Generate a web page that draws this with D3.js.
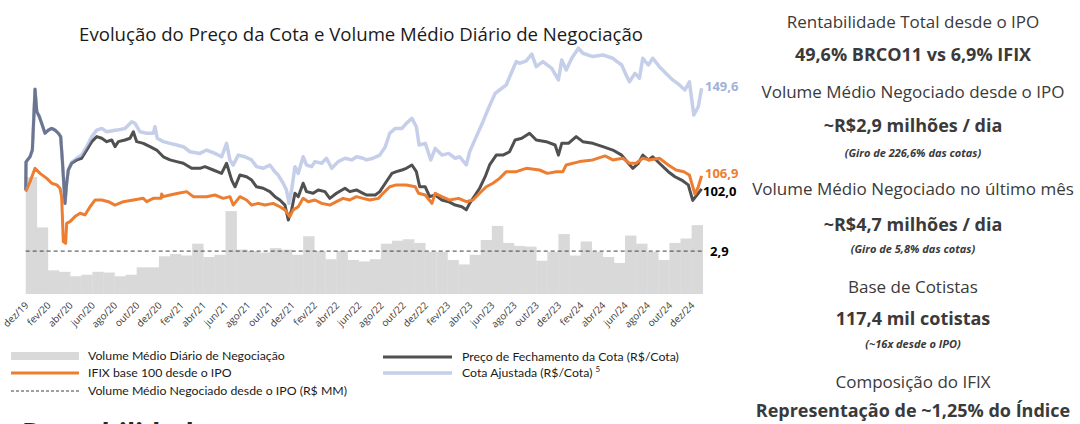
<!DOCTYPE html>
<html>
<head>
<meta charset="utf-8">
<script src="https://cdn.jsdelivr.net/npm/d3@7"></script>
<style>
  body { margin: 0; background: #fff; }
  svg { display: block; }
</style>
</head>
<body>
<svg id="chart" width="1080" height="424"></svg>
<script>
// volume medio diario por mes (R$ MM), dez/19 .. dez/24
var volumeMensal = [7.9, 4.5, 1.6, 1.5, 1.2, 1.3, 1.5, 1.45, 1.2, 1.3, 1.8, 1.8, 2.55, 2.7, 2.6, 3.4, 2.5, 2.65, 5.6, 3.0,
    2.9, 2.8, 3.1, 3.0, 2.65, 3.9, 2.9, 2.35, 2.9, 2.3, 2.2, 2.35, 3.4, 3.6, 3.7, 3.45, 2.85, 2.85, 2.3, 2.0,
    2.65, 3.65, 4.6, 3.45, 3.25, 3.2, 2.25, 2.85, 4.05, 2.6, 3.55, 2.85, 2.5, 2.1, 3.95, 3.4, 2.85, 2.3, 3.45, 3.75, 4.65];
var volumeMedioIPO = 2.9;

// rotulos do eixo x (um a cada 2 meses)
var mesesLabels = ["dez/19", "fev/20", "abr/20", "jun/20", "ago/20", "out/20", "dez/20", "fev/21", "abr/21", "jun/21",
    "ago/21", "out/21", "dez/21", "fev/22", "abr/22", "jun/22", "ago/22", "out/22", "dez/22", "fev/23", "abr/23",
    "jun/23", "ago/23", "out/23", "dez/23", "fev/24", "abr/24", "jun/24", "ago/24", "out/24", "dez/24"];

// series: [meses desde dez/19, valor]
var precoFechamento = [[0, 100.5], [0.03, 113.9], [0.39, 116.3], [0.6, 119.5], [0.84, 148.4], [1.0, 137.8], [1.23, 135.4], [1.44, 132.2],
    [1.74, 127.5], [2.04, 129], [2.34, 129.8], [2.64, 129], [2.94, 127.5], [3.15, 125.9], [3.3, 114.8], [3.54, 94.1], [3.69, 103.7],
    [3.84, 110], [4.14, 113.2], [4.6, 114.8], [5.04, 115.6], [5.5, 119.5], [5.95, 123.5], [6.4, 125.9], [6.85, 125.1], [7.3, 123.5],
    [7.75, 124.3], [8.05, 121.1], [8.35, 123.5], [8.95, 124.3], [9.4, 125.1], [9.7, 128.2], [10.0, 123.5], [10.6, 122.7], [11.2, 121.1],
    [11.8, 119.5], [12.4, 116.3], [13, 114.8], [13.6, 114], [14.2, 113.2], [14.95, 110.8], [15.7, 110.8], [16.15, 111.6], [16.9, 110],
    [17.65, 108.4], [18.1, 113.2], [18.56, 105.2], [18.86, 102], [19.3, 107.6], [19.9, 106.8], [20.36, 105.2], [20.8, 102], [21.4, 101.3],
    [22, 99.7], [22.46, 97.3], [22.9, 95.7], [23.36, 93.3], [23.66, 86.2], [23.96, 91], [24.26, 98.9], [24.56, 97.3], [25, 103.7],
    [25.3, 99.7], [25.9, 98.9], [26.36, 100.5], [26.96, 99.7], [27.4, 96.5], [28, 98.9], [28.77, 101.3], [29.2, 99.7], [29.8, 100.5],
    [30.4, 98.9], [30.7, 98.1], [31.5, 98.1], [31.9, 99.7], [32.4, 103.7], [33, 108.4], [33.4, 109.2], [33.9, 110], [34.3, 110.8],
    [34.8, 112.4], [35.2, 109.2], [35.5, 102], [36, 102], [36.4, 97.3], [36.9, 98.1], [37.5, 95.7], [38.1, 94.9], [38.7, 93.3],
    [39.3, 92.5], [39.7, 91], [40, 94.1], [40.5, 98.1], [40.9, 101.3], [41.4, 106.8], [41.8, 112.4], [42.4, 117.1], [43, 117.1],
    [43.6, 118.7], [44.1, 124.3], [44.7, 125.1], [45.4, 127.5], [46, 124.3], [46.9, 123.5], [47.7, 121.9], [48, 117.1], [48.3, 122.7],
    [48.9, 122.7], [49.6, 125.9], [50.2, 123.5], [51.1, 122.7], [52, 121.1], [52.9, 119.5], [53.7, 117.1], [54.3, 113.2], [54.7, 110.8],
    [55.2, 113.2], [55.6, 117.1], [56.1, 114.8], [56.5, 116.3], [57.1, 113.2], [57.9, 109.2], [58.5, 106.8], [59.1, 105.2], [59.7, 102.9],
    [60.1, 95.5], [60.6, 98.9], [60.9, 101]];

var cotaAjustada = [[0, 100.5], [0.03, 113.9], [0.39, 116.3], [0.6, 119.5], [0.84, 148.4], [1.0, 137.8], [1.23, 135.4], [1.44, 132.2],
    [1.74, 127.5], [2.04, 129], [2.34, 129.8], [2.64, 129], [2.94, 127.5], [3.15, 125.9], [3.3, 114.8], [3.54, 94.1], [3.69, 103.7],
    [3.84, 110], [4.14, 113.6], [4.6, 115.6], [5.04, 117.1], [5.5, 121.1], [5.95, 125.9], [6.4, 129], [6.85, 129.8], [7.3, 128.2],
    [8.2, 129], [8.95, 129.8], [9.55, 133], [9.85, 132.2], [10.3, 128.2], [10.9, 127.5], [11.5, 127.5], [11.65, 130.6], [11.85, 125.1],
    [12.4, 123.5], [13, 122.7], [13.6, 121.9], [14.2, 121.1], [14.8, 118.7], [15.7, 117.9], [16.3, 119.5], [17.05, 117.9], [17.65, 116.3],
    [18.1, 122.7], [18.4, 114.8], [18.7, 112.4], [19.15, 117.1], [19.75, 116.3], [20.35, 114.8], [20.8, 111.6], [21.4, 110.8], [22, 112.4],
    [22.45, 109.2], [22.75, 107.6], [23.2, 103.7], [23.5, 100.5], [23.72, 94.1], [23.96, 100.5], [24.26, 111.6], [24.56, 108.4],
    [25, 116.3], [25.3, 112.4], [25.77, 111.6], [26.06, 114], [26.67, 113.2], [27.1, 115.6], [27.57, 110.8], [28.16, 114], [28.77, 115.6],
    [29.37, 114.8], [29.82, 116.3], [30.4, 115.6], [30.7, 114.8], [31.3, 115.6], [31.9, 117.1], [32.4, 121.1], [32.8, 127.5],
    [33.3, 129.8], [33.9, 129.8], [34.3, 132.2], [34.8, 134.6], [35.2, 130.6], [35.45, 121.9], [36, 122.7], [36.5, 114.8], [36.9, 120.3],
    [37.5, 117.1], [38.1, 117.9], [38.7, 115.6], [39.1, 116.3], [39.7, 112.4], [40, 118.7], [40.6, 125.9], [41.2, 133], [41.7, 139.4],
    [42.3, 146.5], [42.7, 148.1], [43.3, 150.5], [43.9, 158], [44.2, 161.6], [44.5, 160.8], [45.1, 162], [45.6, 165.2], [46, 159.2],
    [46.6, 161.6], [47.4, 158.4], [48, 152.9], [48.3, 162.4], [48.7, 157.6], [49.2, 163.2], [49.8, 168], [50.2, 165.6], [51.1, 164],
    [52, 164.8], [52.9, 163.2], [53.7, 160], [54.1, 155.2], [54.4, 152], [54.9, 156], [55.3, 153.7], [55.6, 163.2], [56.1, 160],
    [56.5, 163.2], [57.1, 159.2], [57.7, 156], [58.3, 152.9], [58.9, 150.5], [59.4, 148.1], [59.8, 152], [60.2, 136.2], [60.6, 140.1],
    [60.9, 148.9]];

var ifixBase100 = [[0, 99.7], [0.39, 104.4], [0.84, 110.8], [1.29, 108.4], [1.9, 106], [2.34, 103.7], [2.8, 102.9], [3.09, 101.3],
    [3.24, 97.3], [3.39, 75.9], [3.6, 75.1], [3.69, 84.6], [3.99, 85.4], [4.44, 87.8], [4.9, 89.4], [5.34, 88.6], [5.8, 92.5],
    [6.24, 95.7], [6.85, 95.7], [7.45, 94.9], [8.05, 93.3], [8.8, 94.9], [9.7, 95.7], [10.6, 96.5], [10.9, 94.9], [11.5, 96.5],
    [12.2, 96.5], [12.25, 98.6], [12.4, 97.3], [13, 98.1], [13.75, 98.9], [14.5, 99.7], [15.1, 97.3], [15.4, 97.3], [16.3, 97.3],
    [17.05, 98.1], [17.8, 96.5], [18.4, 97.3], [18.7, 93.3], [19.3, 97.3], [19.9, 95.7], [20.36, 93.3], [20.95, 94.1], [21.56, 93.3],
    [22.3, 94.1], [22.9, 92.5], [23.36, 91], [23.8, 87.8], [24.1, 91], [24.56, 92.5], [25, 96.5], [25.46, 94.9], [26.06, 95.7],
    [26.67, 94.1], [27.4, 93.3], [28, 94.9], [28.6, 96.5], [29.2, 95.7], [29.8, 97.3], [30.4, 96.5], [31, 95.7], [31.8, 96.5],
    [32.2, 98.9], [32.8, 102], [33.4, 102.9], [34.3, 102.9], [35.1, 102], [35.4, 98.9], [36, 98.1], [36.6, 94.1], [36.9, 98.9],
    [37.5, 97.3], [38.2, 95.7], [39, 96.5], [39.7, 94.9], [40.3, 95.7], [40.9, 98.9], [41.5, 102], [42.1, 103.7], [42.7, 106],
    [43.3, 109.2], [44.2, 109.2], [45.1, 110.8], [46.3, 110], [47, 108.4], [47.8, 109.2], [48.4, 109.2], [48.7, 112.4], [49.9, 114],
    [51.1, 114.8], [52.2, 116.7], [52.9, 114.8], [53.8, 115.6], [54.4, 113.2], [55, 113.2], [55.6, 115.6], [56.2, 114.8], [57.1, 115.6],
    [57.9, 112.4], [58.6, 110], [59.3, 109.2], [59.8, 107.6], [60.3, 98.5], [60.6, 102], [60.9, 107.2]];

// valores finais mostrados ao lado das linhas
var ultimos = { ajustada: 149.6, ifix: 106.9, preco: 102.0 };

// textos do painel da direita
var painel = [
    { t: "Rentabilidade Total desde o IPO", kind: "head", y: 28 },
    { t: "49,6% BRCO11 vs 6,9% IFIX", kind: "big", y: 61 },
    { t: "Volume Médio Negociado desde o IPO", kind: "head", y: 98 },
    { t: "~R$2,9 milhões / dia", kind: "big", y: 132 },
    { t: "(Giro de 226,6% das cotas)", kind: "note", y: 157 },
    { t: "Volume Médio Negociado no último mês", kind: "head", y: 195 },
    { t: "~R$4,7 milhões / dia", kind: "big", y: 231 },
    { t: "(Giro de 5,8% das cotas)", kind: "note", y: 253 },
    { t: "Base de Cotistas", kind: "head", y: 293 },
    { t: "117,4 mil cotistas", kind: "big", y: 325 },
    { t: "(~16x desde o IPO)", kind: "note", y: 348 },
    { t: "Composição do IFIX", kind: "head", y: 388 },
    { t: "Representação de ~1,25% do Índice", kind: "big", y: 417 }
];

var svg = d3.select("#chart");
var fmt = d3.format(".1f");
function br(v) { return fmt(v).replace(".", ","); }

// escalas
var x = d3.scaleLinear().domain([0, 61]).range([25.7, 702.7]);
var yLine = d3.scaleLinear().domain([100, 150]).range([191, 86]);
var yBar = d3.scaleLinear().domain([0, 5]).range([294, 220]);

// titulo
svg.append("text").attr("x", 361).attr("y", 41)
    .attr("text-anchor", "middle")
    .style("font-family", "'Open Sans', sans-serif").style("font-size", "18.6px").style("fill", "#1a1a1a")
    .text("Evolução do Preço da Cota e Volume Médio Diário de Negociação");

// barras de volume
svg.append("g").selectAll("rect").data(volumeMensal).enter().append("rect")
    .attr("x", (d, i) => x(i))
    .attr("width", (d, i) => x(i + 1) - x(i) + 0.3)
    .attr("y", d => yBar(d))
    .attr("height", d => yBar(0) - yBar(d))
    .attr("fill", "#d9d9d9");

// media desde o IPO
svg.append("line")
    .attr("x1", x(0)).attr("x2", x(61))
    .attr("y1", yBar(volumeMedioIPO)).attr("y2", yBar(volumeMedioIPO))
    .attr("stroke", "#404040").attr("stroke-width", 1).attr("stroke-dasharray", "4,3");

// eixo x
var xAxis = d3.axisBottom(x)
    .tickValues(mesesLabels.map((d, i) => i * 2))
    .tickSize(0)
    .tickFormat((d, i) => mesesLabels[i]);
var gx = svg.append("g").attr("transform", "translate(0,299)").call(xAxis);
gx.select(".domain").remove();
gx.selectAll("text")
    .attr("y", 0).attr("dy", 0)
    .attr("text-anchor", "end")
    .attr("transform", "translate(3,7) rotate(-45)")
    .style("font-family", "'Open Sans', sans-serif").style("font-size", "9.8px").style("fill", "#404040");

// linhas
var line = d3.line().x(d => x(d[0])).y(d => yLine(d[1]));
svg.append("path").datum(precoFechamento).attr("d", line)
    .attr("fill", "none").attr("stroke", "#505050").attr("stroke-width", 3).attr("stroke-linejoin", "round");
svg.append("path").datum(ifixBase100).attr("d", line)
    .attr("fill", "none").attr("stroke", "#ED7D31").attr("stroke-width", 3).attr("stroke-linejoin", "round");
svg.append("path").datum(cotaAjustada).attr("d", line)
    .attr("fill", "none").attr("stroke", "#889ed4").attr("stroke-opacity", 0.49)
    .attr("stroke-width", 3.5).attr("stroke-linejoin", "round");

// rotulos de valor
var lab = svg.append("g").style("font-family", "'Open Sans', sans-serif").style("font-size", "13px").style("font-weight", 700);
lab.append("text").attr("x", 705).attr("y", 91).style("fill", "#9fb0da").text(br(ultimos.ajustada));
lab.append("text").attr("x", 705).attr("y", 178).style("fill", "#ED7D31").text(br(ultimos.ifix));
lab.append("text").attr("x", 703).attr("y", 196).style("fill", "#000").text(br(ultimos.preco));
lab.append("text").attr("x", 710).attr("y", 256).style("fill", "#000").text(br(volumeMedioIPO));

// legenda
var lg = svg.append("g").style("font-family", "Lato, sans-serif").style("font-size", "12.3px").style("fill", "#1a1a1a");
lg.append("rect").attr("x", 11).attr("y", 352).attr("width", 68).attr("height", 8).attr("fill", "#d9d9d9");
lg.append("text").attr("x", 88).attr("y", 360).text("Volume Médio Diário de Negociação");
lg.append("line").attr("x1", 11).attr("x2", 79).attr("y1", 373).attr("y2", 373).attr("stroke", "#ED7D31").attr("stroke-width", 3);
lg.append("text").attr("x", 88).attr("y", 377).text("IFIX base 100 desde o IPO");
lg.append("line").attr("x1", 11).attr("x2", 79).attr("y1", 391).attr("y2", 391)
    .attr("stroke", "#404040").attr("stroke-width", 1).attr("stroke-dasharray", "3,2");
lg.append("text").attr("x", 88).attr("y", 395).text("Volume Médio Negociado desde o IPO (R$ MM)");
lg.append("line").attr("x1", 383).attr("x2", 452).attr("y1", 357).attr("y2", 357).attr("stroke", "#505050").attr("stroke-width", 3);
lg.append("text").attr("x", 462).attr("y", 361).text("Preço de Fechamento da Cota (R$/Cota)");
lg.append("line").attr("x1", 383).attr("x2", 452).attr("y1", 373).attr("y2", 373)
    .attr("stroke", "#889ed4").attr("stroke-opacity", 0.49).attr("stroke-width", 3.5);
var t5 = lg.append("text").attr("x", 462).attr("y", 377).text("Cota Ajustada (R$/Cota) ");
t5.append("tspan").attr("dy", -5).style("font-size", "8px").text("5");

// titulo da secao seguinte, cortado na borda de baixo
svg.append("text").attr("x", 22).attr("y", 442)
    .style("font-family", "'Open Sans', sans-serif").style("font-size", "27px").style("font-weight", 700).style("fill", "#262626")
    .text("Rentabilidade");

// painel da direita
var styles = {
    head: { size: "17px", weight: 400, style: "normal" },
    big: { size: "18px", weight: 700, style: "normal" },
    note: { size: "11px", weight: 700, style: "italic" }
};
svg.append("g").selectAll("text").data(painel).enter().append("text")
    .attr("x", 913).attr("y", d => d.y)
    .attr("text-anchor", "middle")
    .style("font-family", "'Open Sans', sans-serif")
    .style("font-size", d => styles[d.kind].size)
    .style("font-weight", d => styles[d.kind].weight)
    .style("font-style", d => styles[d.kind].style)
    .style("fill", "#3a3a3a")
    .text(d => d.t);
</script>
</body>
</html>
